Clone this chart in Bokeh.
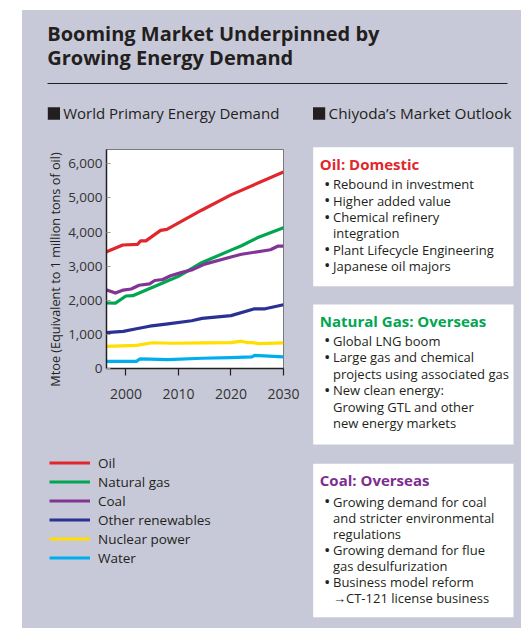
import math
from bokeh.plotting import figure
from bokeh.layouts import row, column
from bokeh.models import (Legend, LegendItem, FixedTicker, NumeralTickFormatter,
                          Range1d, Spacer)
from bokeh.core.properties import value
from bokeh.embed import file_html
from bokeh.resources import INLINE

# ---------------- data ----------------
oil_years = [1996, 1999.4, 2002.2, 2002.8, 2003.8, 2006.6, 2007.8, 2014.4, 2020, 2030]
oil_vals = [3400, 3620, 3640, 3740, 3740, 4050, 4080, 4640, 5090, 5760]

gas_years = [1996, 1998, 2000, 2001.3, 2008, 2010, 2014.4, 2020, 2022, 2025, 2030]
gas_vals = [1920, 1915, 2125, 2135, 2570, 2700, 3100, 3470, 3600, 3830, 4130]

coal_years = [1996, 1998, 1999.5, 2001, 2002.5, 2004.5, 2005.5, 2007, 2008.5, 2010.5,
              2012.5, 2015, 2020, 2022, 2027.5, 2029, 2030]
coal_vals = [2320, 2210, 2300, 2330, 2440, 2480, 2580, 2610, 2720, 2810,
             2890, 3060, 3270, 3350, 3480, 3590, 3590]

ren_years = [1996, 1999.5, 2002, 2004.5, 2008, 2012.5, 2014.5, 2020, 2024.5, 2026.5, 2030]
ren_vals = [1050, 1090, 1165, 1240, 1310, 1400, 1470, 1550, 1750, 1750, 1870]

nuc_years = [1996, 2002, 2005, 2009, 2014.5, 2020, 2022, 2023, 2024, 2025.3, 2030]
nuc_vals = [650, 680, 755, 740, 750, 760, 800, 760, 760, 730, 750]

wat_years = [1996, 2002, 2002.7, 2008, 2014.5, 2020, 2024, 2024.5, 2030]
wat_vals = [210, 210, 285, 260, 300, 320, 340, 385, 340]

series_names = ["Oil", "Natural gas", "Coal", "Other renewables", "Nuclear power", "Water"]
series_years = [oil_years, gas_years, coal_years, ren_years, nuc_years, wat_years]
series_vals = [oil_vals, gas_vals, coal_vals, ren_vals, nuc_vals, wat_vals]
series_colors = ["#e1262c", "#00a651", "#813594", "#2b3192", "#ffde00", "#00aeef"]

x_ticks = [2000, 2010, 2020, 2030]
y_ticks = [0, 1000, 2000, 3000, 4000, 5000, 6000]

title_lines = ["Booming Market Underpinned by", "Growing Energy Demand"]
left_heading = "World Primary Energy Demand"
right_heading = "Chiyoda\u2019s Market Outlook"
y_label = "Mtoe (Equivalent to 1 million tons of oil)"

boxes = [
    ("Oil: Domestic", "#e1262c",
     [(True, "Rebound in investment"), (True, "Higher added value"),
      (True, "Chemical refinery"), (False, "integration"),
      (True, "Plant Lifecycle Engineering"), (True, "Japanese oil majors")]),
    ("Natural Gas: Overseas", "#00a651",
     [(True, "Global LNG boom"), (True, "Large gas and chemical"),
      (False, "projects using associated gas"), (True, "New clean energy:"),
      (False, "Growing GTL and other"), (False, "new energy markets")]),
    ("Coal: Overseas", "#7e2e8f",
     [(True, "Growing demand for coal"), (False, "and stricter environmental"),
      (False, "regulations"), (True, "Growing demand for flue"),
      (False, "gas desulfurization"), (True, "Business model reform"),
      (False, "\u2192CT-121 license business")]),
]

# ---------------- styling / layout ----------------
FONT = "Open Sans"
DARK = "#231f20"
PANEL = "#c8c9d8"
BASELINE_FIX = 0.42   # em: lift so that the glyph baseline sits on the given y


def panel_fig(x0, x1, y0, y1):
    """A figure whose frame fills its canvas; data units = page pixels."""
    f = figure(width=int(round(x1 - x0)), height=int(round(y1 - y0)),
               output_backend="svg", toolbar_location=None,
               x_range=Range1d(x0, x1), y_range=Range1d(y1, y0),
               x_axis_location=None, y_axis_location=None, min_border=0)
    f.grid.visible = False
    f.outline_line_color = None
    f.background_fill_color = PANEL
    f.border_fill_color = PANEL
    f.frame_align = False
    return f


def txt(f, x, y, s, size, color=DARK, style="normal", align="left"):
    y = y - BASELINE_FIX * size
    f.text(x=[x], y=[y], text=[s], text_font=value(FONT), text_font_size=f"{size}px",
           text_color=color, text_font_style=style, text_align=align,
           text_baseline="alphabetic")


def rect(f, l, r, t, b, color):
    f.quad(left=[l], right=[r], top=[t], bottom=[b], fill_color=color, line_color=None)


# ---- top: title, rule, headings ----
top = panel_fig(22, 521, 10, 144)
txt(top, 46.7, 41.5, title_lines[0], 20, style="bold")
txt(top, 46.7, 65.5, title_lines[1], 20, style="bold")
rect(top, 47, 507, 82.4, 83.6, DARK)
rect(top, 47.3, 59.5, 106.7, 119.3, DARK)
txt(top, 62.7, 119, left_heading, 15)
rect(top, 312.5, 324.7, 106.7, 119.3, DARK)
txt(top, 328, 119, right_heading, 15.3)

# ---- y axis title ----
ylab = panel_fig(22, 65, 144, 418)
ylab.text(x=[54.5], y=[269], text=[y_label], text_font=value(FONT),
          text_font_size="12.7px", text_color=DARK, text_align="center",
          text_baseline="middle", angle=math.pi / 2)

# ---- chart ----
p = figure(width=243, height=274, output_backend="svg", toolbar_location=None,
           x_range=Range1d(1996.3, 2030), y_range=Range1d(0, 6420),
           min_border_left=39, min_border_right=25, min_border_top=5,
           min_border_bottom=50)
p.frame_align = False
p.border_fill_color = PANEL
p.background_fill_color = "white"
p.outline_line_color = "#7a7a7a"
p.outline_line_width = 1
p.grid.visible = False
p.xaxis.ticker = FixedTicker(ticks=x_ticks)
p.yaxis.ticker = FixedTicker(ticks=y_ticks)
p.yaxis.formatter = NumeralTickFormatter(format="0,0")
for ax in (p.xaxis[0], p.yaxis[0]):
    ax.axis_line_color = DARK
    ax.axis_line_width = 1.5
    ax.minor_tick_line_color = None
    ax.major_label_text_font = FONT
    ax.major_label_text_color = "#333333"
p.xaxis.major_tick_in = 0
p.xaxis.major_tick_out = 7
p.xaxis.major_tick_line_color = DARK
p.xaxis.major_tick_line_width = 1.2
p.xaxis.major_label_standoff = 13
p.xaxis.major_label_text_font_size = "14px"
p.yaxis.major_tick_in = 4
p.yaxis.major_tick_out = 0
p.yaxis.major_tick_line_color = "#9a9a9a"
p.yaxis.major_label_standoff = 4
p.yaxis.major_label_text_font_size = "13.5px"

for xs, ys, c in zip(series_years, series_vals, series_colors):
    p.line(xs, ys, line_color=c, line_width=3.2, line_join="round")

# ---- legend ----
leg = panel_fig(22, 308, 418, 628)
items = []
for name, c in zip(series_names, series_colors):
    # legend key only: a single undefined point draws nothing on the canvas
    r = leg.line(x=[float("nan")], y=[float("nan")], line_color=c, line_width=3.2)
    items.append(LegendItem(label=name, renderers=[r]))
legend = Legend(items=items, location=(27, 61), orientation="vertical",
                glyph_width=41, glyph_height=19, label_height=19, spacing=0,
                label_standoff=8, padding=0, margin=0,
                label_text_font=FONT, label_text_font_size="13.5px",
                label_text_color=DARK, border_line_alpha=0,
                background_fill_alpha=0)
leg.add_layout(legend, "center")

# ---- outlook boxes ----
right = panel_fig(308, 521, 144, 628)
box_geom = [(146.7, 285.7, 170, 189.3, 16.3),
            (304, 444, 326.7, 345.7, 16.5),
            (463.3, 616.7, 486, 506.7, 16.1)]
for (title, tcolor, lines), (btop, bbot, ty, ly0, step) in zip(boxes, box_geom):
    rect(right, 312.7, 513, btop, bbot, "white")
    txt(right, 319.3, ty, title, 15, color=tcolor, style="bold")
    for i, (bullet, s) in enumerate(lines):
        y = ly0 + i * step
        if bullet:
            txt(right, 326.7, y + 0.8, "\u2022", 17, align="center")
        txt(right, 332.5, y, s, 13)

panel_area = column(top, row(column(row(ylab, p), leg), right),
                    styles={"background-color": PANEL})
layout = column(Spacer(width=521, height=10),
                row(Spacer(width=22, height=618), panel_area))

open("out.html", "w").write(file_html(layout, INLINE))
